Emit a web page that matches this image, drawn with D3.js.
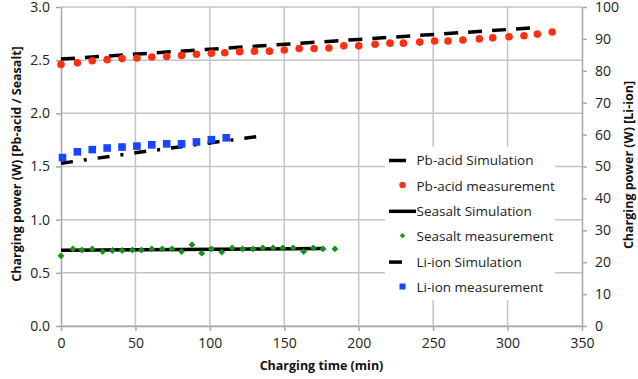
<!DOCTYPE html>
<html>
<head>
<meta charset="utf-8">
<script src="https://cdn.jsdelivr.net/npm/d3@7"></script>
<style>
  body { margin: 0; background: #fff; }
  svg { display: block; font-family: "Open Sans", sans-serif; }
</style>
</head>
<body>
<svg id="chart" width="638" height="379"></svg>
<script>
// Charging time (min) and charging power (W) for three battery types.

// Pb-acid measurement (left axis)
const pbTime = [0, 11, 21, 31, 41, 51, 61, 71, 81, 91, 101, 110, 120, 130, 140, 150, 160, 170,
                180, 190, 200, 211, 221, 230, 241, 251, 260, 270, 281, 290, 301, 311, 320, 330];
const pbPower = [2.46, 2.475, 2.495, 2.505, 2.515, 2.52, 2.53, 2.535, 2.545, 2.555, 2.565, 2.57, 2.58, 2.585, 2.585, 2.595, 2.61, 2.61,
                 2.615, 2.635, 2.635, 2.65, 2.66, 2.66, 2.67, 2.68, 2.68, 2.69, 2.70, 2.71, 2.72, 2.73, 2.745, 2.765];
// Pb-acid simulation (left axis)
const pbSimTime = [0, 100, 200, 318];
const pbSimPower = [2.51, 2.603, 2.695, 2.805];

// Seasalt measurement (left axis)
const ssTime = [0, 8, 14, 21, 28, 34.5, 41, 48, 54, 61, 68, 74.5, 81, 88, 94.5, 101, 108, 115, 122, 129,
                135.5, 142.5, 149, 156, 163, 169.5, 176, 184];
const ssPower = [0.66, 0.725, 0.715, 0.725, 0.70, 0.71, 0.71, 0.715, 0.715, 0.725, 0.725, 0.725, 0.70, 0.765, 0.685, 0.725,
                 0.695, 0.735, 0.725, 0.725, 0.735, 0.735, 0.735, 0.735, 0.70, 0.735, 0.725, 0.725];
// Seasalt simulation (left axis)
const ssSimTime = [0, 177];
const ssSimPower = [0.712, 0.728];

// Li-ion measurement (right axis)
const liTime = [1, 11, 21, 31, 41, 51, 61, 71, 81, 91, 101, 111];
const liPower = [52.8, 54.6, 55.3, 55.8, 56.1, 56.4, 56.8, 57.1, 57.1, 57.7, 58.4, 59.0];
// Li-ion simulation (right axis)
const liSimTime = [0, 50, 100, 135];
const liSimPower = [51.0, 54.3, 57.4, 59.6];

// Axis ticks
const xTicks = [0, 50, 100, 150, 200, 250, 300, 350];
const yLeftTicks = [0, 0.5, 1.0, 1.5, 2.0, 2.5, 3.0];
const yRightTicks = [0, 10, 20, 30, 40, 50, 60, 70, 80, 90, 100];

const legendLabels = ["Pb-acid Simulation", "Pb-acid measurement", "Seasalt Simulation",
                      "Seasalt measurement", "Li-ion Simulation", "Li-ion measurement"];

const svg = d3.select("#chart");
const plotLeft = 61, plotRight = 582, plotTop = 7, plotBottom = 326;

const x = d3.scaleLinear().domain([0, 350]).range([plotLeft, plotRight]);
const yL = d3.scaleLinear().domain([0, 3]).range([plotBottom, plotTop]);
const yR = d3.scaleLinear().domain([0, 100]).range([plotBottom, plotTop]);

const gridColor = "#c4c4c4", axisColor = "#a8a8a8";

// Gridlines
const grid = svg.append("g");
grid.selectAll("line.h").data(yLeftTicks).join("line")
  .attr("x1", plotLeft).attr("x2", plotRight)
  .attr("y1", d => yL(d)).attr("y2", d => yL(d))
  .attr("stroke", gridColor).attr("stroke-width", 1.5);
grid.selectAll("line.v").data(xTicks.slice(1, -1)).join("line")
  .attr("x1", d => x(d)).attr("x2", d => x(d))
  .attr("y1", plotTop).attr("y2", plotBottom)
  .attr("stroke", gridColor).attr("stroke-width", 1.5);

// Axes
function styleAxis(g) {
  g.select(".domain").attr("stroke", axisColor).attr("stroke-width", 1.5);
  g.selectAll(".tick line").attr("stroke", axisColor).attr("stroke-width", 1.5);
  g.selectAll(".tick text").attr("fill", "#222").style("font-size", "14px")
    .style("font-family", "'Open Sans', sans-serif");
}
svg.append("g").attr("transform", `translate(${plotLeft},0)`)
  .call(d3.axisLeft(yL).tickValues(yLeftTicks).tickFormat(d3.format(".1f")).tickSizeInner(5).tickSizeOuter(0).tickPadding(6))
  .call(styleAxis);
svg.append("g").attr("transform", `translate(${plotRight},0)`)
  .call(d3.axisRight(yR).tickValues(yRightTicks).tickSizeInner(5).tickSizeOuter(0).tickPadding(8))
  .call(styleAxis);
svg.append("g").attr("transform", `translate(0,${plotBottom})`)
  .call(d3.axisBottom(x).tickValues(xTicks).tickSizeInner(5).tickSizeOuter(0).tickPadding(7))
  .call(styleAxis);

// Axis titles
svg.append("text").attr("x", (plotLeft + plotRight) / 2).attr("y", 370)
  .attr("text-anchor", "middle").attr("font-weight", "bold").style("font-size", "12.5px")
  .attr("fill", "#111").text("Charging time (min)");
svg.append("text").attr("transform", "translate(21,164) rotate(-90)")
  .attr("text-anchor", "middle").attr("font-weight", "bold").style("font-size", "12.5px")
  .attr("fill", "#111").text("Charging power (W) [Pb-acid / Seasalt]");
svg.append("text").attr("transform", "translate(633,165) rotate(-90)")
  .attr("text-anchor", "middle").attr("font-weight", "bold").style("font-size", "12.5px")
  .attr("fill", "#111").text("Charging power (W) [Li-ion]");

// Simulation lines
const lineL = d3.line().x(d => x(d[0])).y(d => yL(d[1]));
const lineR = d3.line().x(d => x(d[0])).y(d => yR(d[1]));
const plot = svg.append("g");

plot.append("path").datum(d3.zip(pbSimTime, pbSimPower)).attr("d", lineL)
  .attr("fill", "none").attr("stroke", "#000").attr("stroke-width", 3.5)
  .attr("stroke-dasharray", "14,10");
plot.append("path").datum(d3.zip(ssSimTime, ssSimPower)).attr("d", lineL)
  .attr("fill", "none").attr("stroke", "#000").attr("stroke-width", 3.5);
plot.append("path").datum(d3.zip(liSimTime, liSimPower)).attr("d", lineR)
  .attr("fill", "none").attr("stroke", "#000").attr("stroke-width", 3.5)
  .attr("stroke-dasharray", "12,11,3,11");

// Measurement markers
const red = "#ff2f12", green = "#16921a", blue = "#1646ff";
plot.selectAll("circle.pb").data(d3.zip(pbTime, pbPower)).join("circle")
  .attr("cx", d => x(d[0])).attr("cy", d => yL(d[1])).attr("r", 3.8).attr("fill", red);
const diamond = d3.symbol().type(d3.symbolDiamond2).size(30);
plot.selectAll("path.ss").data(d3.zip(ssTime, ssPower)).join("path")
  .attr("transform", d => `translate(${x(d[0])},${yL(d[1])})`)
  .attr("d", diamond).attr("fill", green);
plot.selectAll("rect.li").data(d3.zip(liTime, liPower)).join("rect")
  .attr("x", d => x(d[0]) - 3.8).attr("y", d => yR(d[1]) - 3.8)
  .attr("width", 7.6).attr("height", 7.6).attr("fill", blue);

// Legend
const lg = svg.append("g");
lg.append("rect").attr("x", 385).attr("y", 147).attr("width", 170).attr("height", 153).attr("fill", "#fff");
const rowY = i => 160.5 + i * 25.4;
lg.selectAll("text").data(legendLabels).join("text")
  .attr("x", 416.5).attr("y", (d, i) => rowY(i)).attr("dy", "0.35em")
  .style("font-size", "13.5px").attr("fill", "#222").text(d => d);
lg.append("line").attr("x1", 389).attr("x2", 406).attr("y1", rowY(0)).attr("y2", rowY(0))
  .attr("stroke", "#000").attr("stroke-width", 3.5);
lg.append("circle").attr("cx", 402.5).attr("cy", rowY(1) - 1).attr("r", 3.2).attr("fill", red);
lg.append("line").attr("x1", 389).attr("x2", 416).attr("y1", rowY(2)).attr("y2", rowY(2))
  .attr("stroke", "#000").attr("stroke-width", 3.5);
lg.append("path").attr("transform", `translate(402.5,${rowY(3) - 1})`)
  .attr("d", d3.symbol().type(d3.symbolDiamond2).size(18)).attr("fill", green);
lg.append("line").attr("x1", 389).attr("x2", 402).attr("y1", rowY(4)).attr("y2", rowY(4))
  .attr("stroke", "#000").attr("stroke-width", 3.5);
lg.append("rect").attr("x", 399.5).attr("y", rowY(5) - 4).attr("width", 6).attr("height", 6).attr("fill", blue);
</script>
</body>
</html>
